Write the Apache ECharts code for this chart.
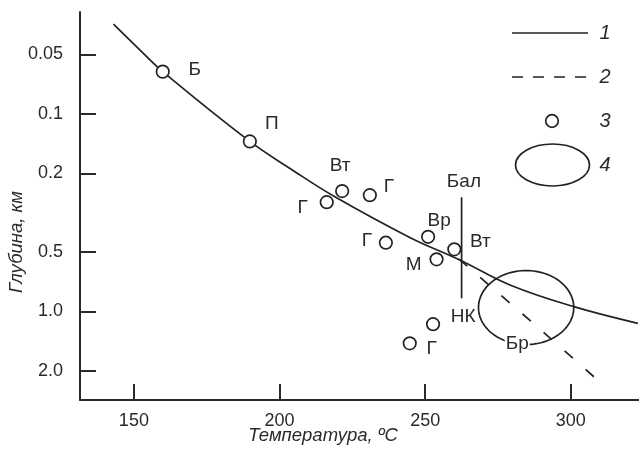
<!DOCTYPE html>
<html><head><meta charset="utf-8">
<script src="https://cdn.jsdelivr.net/npm/echarts@6/dist/echarts.min.js"></script>
<style>html,body{margin:0;padding:0;background:#fff}#c{width:639px;height:454px}</style>
</head><body><div id="c"></div>
<script>
// ---------- data ----------
const curveTemp  = [143.0, 152.1, 159.9, 189.8, 203.6, 219.0, 244.7, 261.9, 279.1, 301.0, 323.0];
const curveDepth = [0.0352, 0.0476, 0.0612, 0.138, 0.189, 0.263, 0.422, 0.549, 0.735, 0.946, 1.148];
const dashTemp  = [261.6, 287.3, 307.9];
const dashDepth = [0.543, 1.155, 2.14];
const pointNames = ['Б', 'П', 'Вт', 'Г', 'Г', 'Г', 'Вр', 'М', 'Вт', '', 'Г'];
const pointTemp  = [159.9, 189.8, 221.5, 216.2, 231.0, 236.5, 251.0, 253.9, 260.0, 252.7, 244.7];
const pointDepth = [0.0612, 0.138, 0.246, 0.280, 0.258, 0.449, 0.419, 0.545, 0.485, 1.16, 1.45];
const rangeTemp  = [262.5, 262.5];
const rangeDepth = [0.264, 0.857];
const noteNames = ['Бал', 'НК', 'Бр'];
const noteTemp  = [263.3, 263.0, 281.6];
const noteDepth = [0.220, 1.068, 1.45];
const fieldTemp  = [268.3, 301.0];
const fieldDepth = [0.621, 1.47];
const tempTicks = [150, 200, 250, 300];
const depthTicks = [0.05, 0.1, 0.2, 0.5, 1.0, 2.0];
const depthTickLabels = ['0.05', '0.1', '0.2', '0.5', '1.0', '2.0'];
const legendLabels = ['1', '2', '3', '4'];
const xName = 'Температура, ºC';
const yName = 'Глубина, км';

// ---------- style ----------
const FONT = '"Liberation Sans", Arial, sans-serif';
const INK = '#222';
const AX = '#2a2a2a';
const labelOffsets = [[32, -2], [22, -18], [-2, -25], [-24, 6], [19, -8], [-19, -2], [11, -16], [-23, 5], [26, -8], [0, 0], [22, 5]];

const L = Math.log10;
const chart = echarts.init(document.getElementById('c'), null, {renderer: 'canvas'});

const option = {
  animation: false,
  backgroundColor: '#fff',
  grid: {left: 80, right: 0, top: 12, bottom: 54, containLabel: false, outerBoundsMode: 'none'},
  xAxis: {
    type: 'value', min: 131.5, max: 323.4,
    axisLine: {onZero: false, lineStyle: {color: AX, width: 2}},
    axisTick: {inside: true, length: 16, customValues: tempTicks, lineStyle: {color: AX, width: 2}},
    axisLabel: {customValues: tempTicks, margin: 12, fontSize: 18, color: AX, fontFamily: FONT},
    splitLine: {show: false}
  },
  yAxis: {
    type: 'value', inverse: true, min: -1.515, max: 0.448,
    axisLine: {onZero: false, lineStyle: {color: AX, width: 2}},
    axisTick: {inside: true, length: 16, customValues: depthTicks.map(L), lineStyle: {color: AX, width: 2}},
    axisLabel: {
      customValues: depthTicks.map(L), margin: 17, fontSize: 18, color: AX, fontFamily: FONT,
      formatter: v => {
        const i = depthTicks.findIndex(t => Math.abs(L(t) - v) < 1e-6);
        return i >= 0 ? depthTickLabels[i] : '';
      }
    },
    splitLine: {show: false}
  },
  series: [
    {
      type: 'line', smooth: 0.4, symbol: 'none', z: 2,
      lineStyle: {color: INK, width: 1.7},
      data: curveTemp.map((t, i) => [t, L(curveDepth[i])])
    },
    {
      type: 'line', symbol: 'none', z: 2,
      lineStyle: {color: INK, width: 1.7, type: [11, 17]},
      data: dashTemp.map((t, i) => [t, L(dashDepth[i])])
    },
    {
      type: 'line', symbol: 'none', z: 2,
      lineStyle: {color: INK, width: 1.7},
      data: rangeTemp.map((t, i) => [t, L(rangeDepth[i])])
    },
    {
      type: 'custom', z: 3,
      data: [[fieldTemp[0], fieldTemp[1], L(fieldDepth[0]), L(fieldDepth[1])]],
      encode: {x: [0, 1], y: [2, 3]},
      renderItem: (params, api) => {
        const p1 = api.coord([api.value(0), api.value(2)]);
        const p2 = api.coord([api.value(1), api.value(3)]);
        const cx = (p1[0] + p2[0]) / 2, cy = (p1[1] + p2[1]) / 2;
        const rx = Math.abs(p2[0] - p1[0]) / 2, ry = Math.abs(p2[1] - p1[1]) / 2;
        const pts = [];
        for (let k = 0; k <= 120; k++) {
          const a = k / 120 * Math.PI * 2;
          pts.push([cx + rx * Math.cos(a), cy + ry * Math.sin(a)]);
        }
        return {type: 'polyline', shape: {points: pts}, style: {fill: null, stroke: INK, lineWidth: 1.7}};
      }
    },
    {
      type: 'scatter', z: 5, symbol: 'circle', symbolSize: 12.5,
      itemStyle: {color: '#fff', borderColor: INK, borderWidth: 1.7, opacity: 1},
      data: pointTemp.map((t, i) => ({
        value: [t, L(pointDepth[i])],
        label: {
          show: pointNames[i] !== '', position: 'inside', offset: labelOffsets[i],
          formatter: pointNames[i], fontSize: 19, color: AX, fontFamily: FONT
        }
      }))
    },
    {
      type: 'custom', z: 6,
      data: noteTemp.map((t, i) => [t, L(noteDepth[i]), i]),
      encode: {x: 0, y: 1},
      renderItem: (params, api) => {
        const p = api.coord([api.value(0), api.value(1)]);
        const i = api.value(2);
        return {
          type: 'text', x: p[0], y: p[1],
          style: {
            text: noteNames[i], fill: AX, font: '19px ' + FONT, align: 'center', verticalAlign: 'middle',
            backgroundColor: i === 2 ? '#fff' : null, padding: i === 2 ? [0, 1] : 0
          }
        };
      }
    }
  ],
  graphic: [
    {type: 'text', x: 323, y: 436, style: {text: xName, font: 'italic 18.5px ' + FONT, fill: AX, align: 'center', verticalAlign: 'middle'}},
    {type: 'text', x: 17, y: 242, rotation: Math.PI / 2, style: {text: yName, font: 'italic 18.5px ' + FONT, fill: AX, align: 'center', verticalAlign: 'middle'}},
    {type: 'line', shape: {x1: 512, y1: 33, x2: 588, y2: 33}, style: {stroke: INK, lineWidth: 1.7}},
    {type: 'line', shape: {x1: 512, y1: 77, x2: 588, y2: 77}, style: {stroke: INK, lineWidth: 1.7, lineDash: [11, 10]}},
    {type: 'circle', shape: {cx: 552, cy: 121, r: 6.3}, style: {fill: '#fff', stroke: INK, lineWidth: 1.7}},
    {type: 'ellipse', shape: {cx: 552.5, cy: 165, rx: 37, ry: 21}, style: {fill: null, stroke: INK, lineWidth: 1.7}},
    {type: 'text', x: 605, y: 33, style: {text: legendLabels[0], font: 'italic 20px ' + FONT, fill: AX, align: 'center', verticalAlign: 'middle'}},
    {type: 'text', x: 605, y: 77, style: {text: legendLabels[1], font: 'italic 20px ' + FONT, fill: AX, align: 'center', verticalAlign: 'middle'}},
    {type: 'text', x: 605, y: 121, style: {text: legendLabels[2], font: 'italic 20px ' + FONT, fill: AX, align: 'center', verticalAlign: 'middle'}},
    {type: 'text', x: 605, y: 165, style: {text: legendLabels[3], font: 'italic 20px ' + FONT, fill: AX, align: 'center', verticalAlign: 'middle'}}
  ]
};
chart.setOption(option);
</script>
</body></html>
